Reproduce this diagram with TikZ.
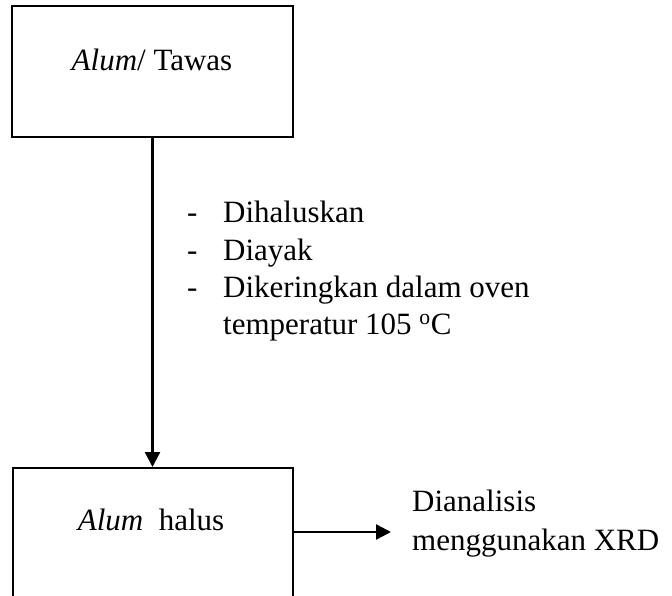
\documentclass[tikz,border=0pt]{standalone}
\usepackage{fontspec}
\setmainfont{Liberation Serif}
\usetikzlibrary{arrows.meta}

\begin{document}
\begin{tikzpicture}[x=1pt, y=-1pt,
    txt/.style={inner sep=0pt, font=\fontsize{31}{37}\selectfont},
    box/.style={draw, line width=2.4pt, inner sep=0pt},
    arr/.style={line width=2.4pt, -{Triangle[length=15pt, width=15pt]}}]
  \useasboundingbox (0,0) rectangle (672,596);
  \clip (0,0) rectangle (672,596);

  % starting material
  \node[box, minimum width=281pt, minimum height=131pt] (raw) at (152.5,71.5) {};
  \node[txt, anchor=base] (rawtxt) at (152,71) {\textit{Alum}/ Tawas};

  % ground product (box runs past the lower edge)
  \node[box, minimum width=280pt, minimum height=220pt, anchor=north west] (fine) at (12,467) {};
  \node[txt, anchor=base] (finetxt) at (151,530) {\textit{Alum}\ \ halus};

  % processing steps
  \node[txt, anchor=base west] (d1) at (187,223) {-};
  \node[txt, anchor=base west] (s1) at (223,223) {Dihaluskan};
  \node[txt, anchor=base west] (d2) at (187,260) {-};
  \node[txt, anchor=base west] (s2) at (223,260) {Diayak};
  \node[txt, anchor=base west] (d3) at (187,297) {-};
  \node[txt, anchor=base west] (s3) at (223,297) {Dikeringkan dalam oven};
  \node[txt, anchor=base west] (s4) at (223,334) {temperatur 105 \textsuperscript{o}C};

  % analysis
  \node[txt, anchor=base west] (an1) at (412,511) {Dianalisis};
  \node[txt, anchor=base west] (an2) at (412,550) {menggunakan XRD};

  % connectors
  \draw[arr] (raw.south) -- (fine.north -| raw.south);
  \coordinate (xrd) at (391,532);
  \draw[arr] (fine.east |- xrd) -- (xrd);
\end{tikzpicture}
\end{document}
